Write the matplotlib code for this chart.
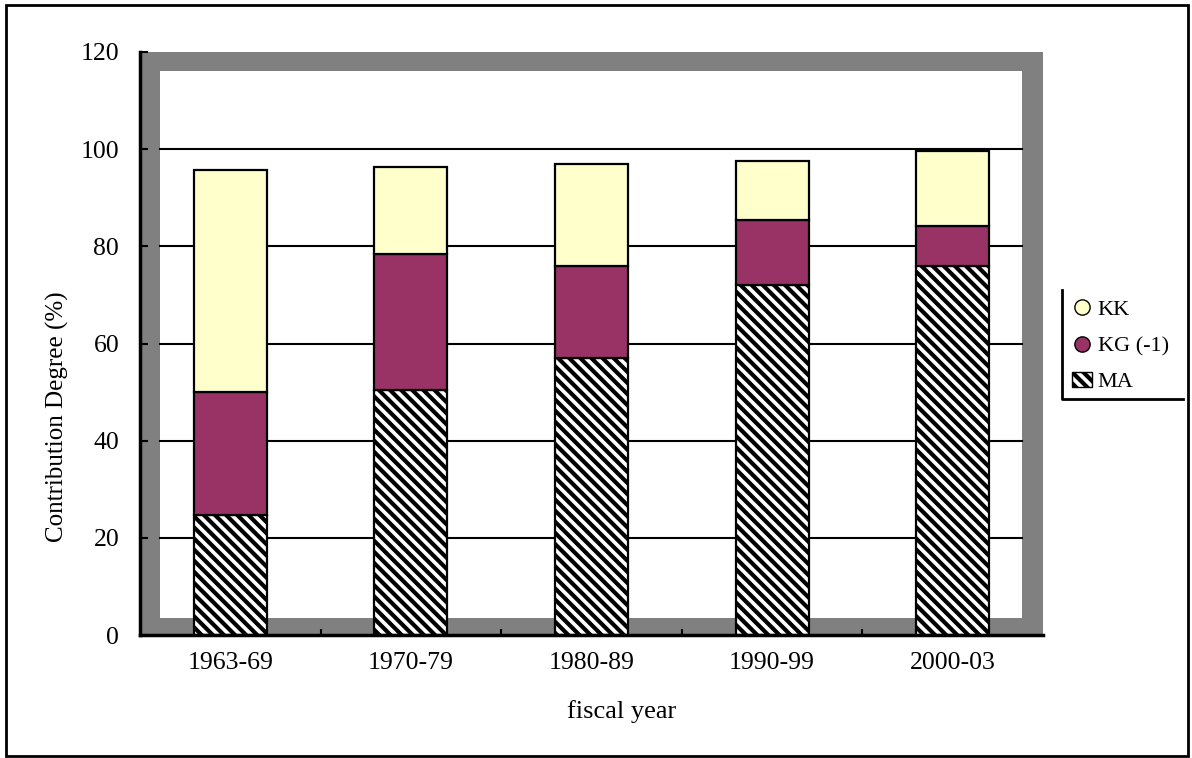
import numpy as np
import matplotlib
matplotlib.use('Agg')
import matplotlib.pyplot as plt
import matplotlib.patches as mpatches
from matplotlib.lines import Line2D

# Data
periods = ['1963-69', '1970-79', '1980-89', '1990-99', '2000-03']
ma = [24.7, 50.4, 57.0, 72.0, 76.0]
kg = [25.3, 28.0, 19.0, 13.4, 8.2]
kk = [45.7, 17.9, 21.0, 12.2, 15.4]
series_names = ['KK', 'KG (-1)', 'MA']
yticks = [0, 20, 40, 60, 80, 100, 120]

plt.rcParams['font.family'] = 'Liberation Serif'
plt.rcParams['hatch.linewidth'] = 3.0

W, H = 1192, 758
fig = plt.figure(figsize=(W / 100, H / 100), dpi=100)

# Axes placed in pixel units
left, right, bottom, top = 140, 1043, 635, 52
ax = fig.add_axes([left / W, (H - bottom) / H, (right - left) / W,
                   (bottom - top) / H])
ax.set_facecolor('#808080')

# White inner wall of the gray frame
aw, ah = right - left, bottom - top
fl, fr, fb, ft = 20 / aw, 21 / aw, 17 / ah, 19 / ah
ax.add_patch(mpatches.Rectangle((fl, fb), 1 - fl - fr, 1 - fb - ft,
                                transform=ax.transAxes, facecolor='white',
                                edgecolor='none', zorder=0))
for yv in yticks[1:-1]:
    ax.axhline(yv, xmin=fl, xmax=1 - fr, color='black', lw=1.5, zorder=1)

x = np.arange(len(periods))
width = 0.404
hatch = '\\\\\\'
ma_b = ax.bar(x, ma, width, facecolor='white', edgecolor='black', hatch=hatch,
              lw=1.6, zorder=2)
kg_b = ax.bar(x, kg, width, bottom=ma, color='#993366', edgecolor='black',
              lw=1.6, zorder=2)
kk_b = ax.bar(x, kk, width, bottom=np.add(ma, kg), color='#FFFFCC',
              edgecolor='black', lw=1.6, zorder=2)

ax.set_xlim(-0.5, len(periods) - 0.5)
ax.set_ylim(0, 120)

ax.set_yticks(yticks)
ax.set_xticks(x)
ax.set_xticklabels(periods)
ax.set_xticks(np.arange(0.5, len(periods) - 0.5), minor=True)
ax.tick_params(axis='x', which='major', length=0, pad=12, labelsize=18.5)
ax.tick_params(axis='x', which='minor', direction='in', length=4, width=1.5)
ax.tick_params(axis='y', direction='in', length=6, width=1.5, pad=15,
               labelsize=18.5)

for s in ['top', 'right']:
    ax.spines[s].set_visible(False)
for s in ['left', 'bottom']:
    ax.spines[s].set_linewidth(2.5)
    ax.spines[s].set_zorder(3)

ax.set_xlabel('fiscal year', fontsize=19)
ax.xaxis.set_label_coords((622 - left) / aw, -(712 - bottom) / ah)
ax.xaxis.label.set_va('center')
ax.set_ylabel('Contribution Degree (%)', fontsize=18)
ax.yaxis.set_label_coords(-(left - 57) / aw, (bottom - 417) / ah)
ax.yaxis.label.set_va('center')

# Legend
handles = [
    Line2D([], [], marker='o', ls='none', markersize=11,
           markerfacecolor='#FFFFCC', markeredgecolor='black'),
    Line2D([], [], marker='o', ls='none', markersize=11,
           markerfacecolor='#993366', markeredgecolor='black'),
    mpatches.Patch(facecolor='white', edgecolor='black', hatch=hatch),
]
leg = fig.legend(handles, series_names, loc='center left',
                 bbox_to_anchor=(1052 / W, 1 - 346 / H), frameon=False,
                 fontsize=16, handlelength=0.9, handletextpad=0.25,
                 labelspacing=0.7)
fig.add_artist(Line2D([1062 / W, 1062 / W, 1183 / W],
                      [1 - 290 / H, 1 - 399 / H, 1 - 399 / H],
                      transform=fig.transFigure, color='black', lw=2))

# Outer border
fig.add_artist(mpatches.Rectangle((6 / W, 2 / H), 1182 / W, 751 / H,
                                  transform=fig.transFigure, fill=False,
                                  edgecolor='black', lw=2))

fig.savefig('out.png', dpi=100)
